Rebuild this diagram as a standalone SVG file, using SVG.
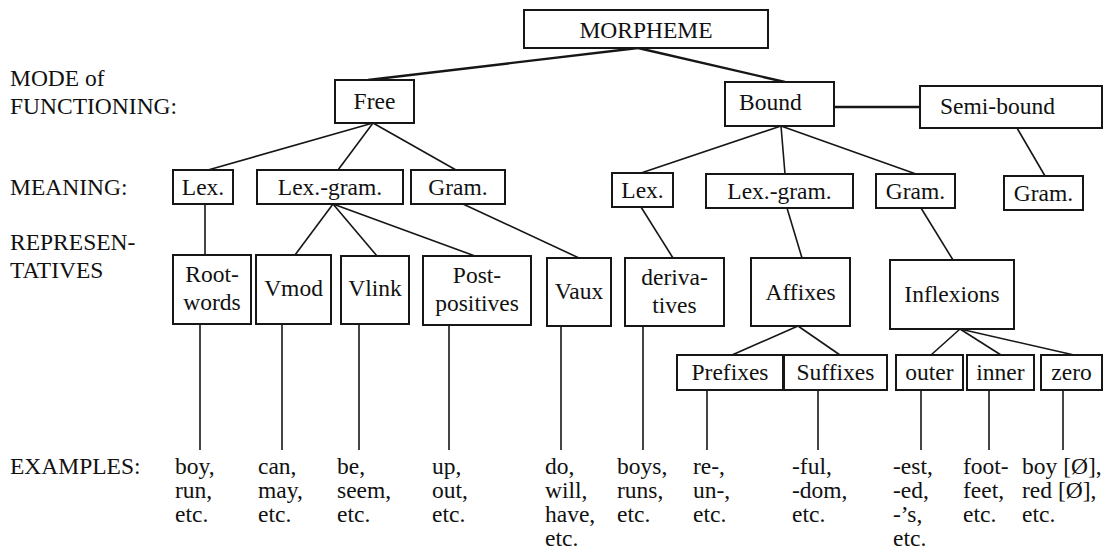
<svg xmlns="http://www.w3.org/2000/svg" width="1118" height="551" viewBox="0 0 1118 551">
  <style>
    text { font-family: "Liberation Serif", "Times New Roman", serif; font-size: 23.5px; fill: #111111; }
    .c { text-anchor: middle; }
    .box { fill: #ffffff; stroke: #161616; stroke-width: 2; }
    .ln { stroke: #161616; stroke-width: 1.6; fill: none; }
    .thick { stroke-width: 2.4; }
  </style>
  <rect width="1118" height="551" fill="#ffffff"/>

  <!-- row labels -->
  <g id="row-labels">
    <text x="10" y="86">MODE of</text>
    <text x="10" y="114">FUNCTIONING:</text>
    <text x="10" y="195">MEANING:</text>
    <text x="10" y="250">REPRESEN-</text>
    <text x="10" y="278">TATIVES</text>
    <text x="10" y="474">EXAMPLES:</text>
  </g>

  <!-- connectors -->
  <g id="connectors">
    <line class="ln thick" x1="638" y1="48" x2="368" y2="80"/>
    <line class="ln thick" x1="638" y1="48" x2="785" y2="82"/>
    <line class="ln thick" x1="834" y1="107" x2="920" y2="107"/>

    <line class="ln" x1="373" y1="123" x2="208" y2="170"/>
    <line class="ln" x1="373" y1="123" x2="338" y2="170"/>
    <line class="ln" x1="373" y1="123" x2="456" y2="170"/>

    <line class="ln" x1="781" y1="126" x2="641" y2="173"/>
    <line class="ln" x1="781" y1="126" x2="785" y2="174"/>
    <line class="ln" x1="781" y1="126" x2="916" y2="174"/>
    <line class="ln" x1="1017" y1="128" x2="1045" y2="176"/>

    <line class="ln" x1="205" y1="204" x2="205" y2="255"/>
    <line class="ln" x1="333" y1="204" x2="295" y2="255"/>
    <line class="ln" x1="333" y1="204" x2="377" y2="256"/>
    <line class="ln" x1="333" y1="204" x2="475" y2="256"/>
    <line class="ln" x1="463" y1="204" x2="579" y2="258"/>

    <line class="ln" x1="641" y1="207" x2="673" y2="258"/>
    <line class="ln" x1="787" y1="208" x2="802" y2="258"/>
    <line class="ln" x1="921" y1="208" x2="953" y2="260"/>

    <line class="ln" x1="798" y1="326" x2="732" y2="355"/>
    <line class="ln" x1="798" y1="326" x2="840" y2="355"/>
    <line class="ln" x1="960" y1="329" x2="931" y2="355"/>
    <line class="ln" x1="960" y1="329" x2="1001" y2="355"/>
    <line class="ln" x1="960" y1="329" x2="1074" y2="355"/>

    <line class="ln" x1="200" y1="324" x2="200" y2="450"/>
    <line class="ln" x1="282" y1="324" x2="282" y2="450"/>
    <line class="ln" x1="359" y1="324" x2="359" y2="450"/>
    <line class="ln" x1="449" y1="325" x2="449" y2="450"/>
    <line class="ln" x1="561" y1="326" x2="561" y2="450"/>
    <line class="ln" x1="643" y1="326" x2="643" y2="450"/>
    <line class="ln" x1="707" y1="390" x2="707" y2="450"/>
    <line class="ln" x1="818" y1="390" x2="818" y2="450"/>
    <line class="ln" x1="921" y1="390" x2="921" y2="450"/>
    <line class="ln" x1="989" y1="390" x2="989" y2="450"/>
    <line class="ln" x1="1063" y1="390" x2="1063" y2="450"/>
  </g>

  <!-- level 0 -->
  <g id="morpheme"><rect class="box" x="524" y="10" width="244" height="38"/><text class="c" x="646" y="38">MORPHEME</text></g>

  <!-- mode of functioning -->
  <g id="free"><rect class="box" x="335" y="80" width="79" height="43"/><text class="c" x="374.5" y="109">Free</text></g>
  <g id="bound"><rect class="box" x="725" y="82" width="109" height="44"/><text x="739" y="110">Bound</text></g>
  <g id="semi-bound"><rect class="box" x="920" y="86" width="182" height="42"/><text x="940" y="114">Semi-bound</text></g>

  <!-- meaning -->
  <g id="free-lex"><rect class="box" x="173" y="170" width="60" height="34"/><text class="c" x="203" y="195">Lex.</text></g>
  <g id="free-lexgram"><rect class="box" x="257" y="170" width="146" height="34"/><text class="c" x="330" y="195">Lex.-gram.</text></g>
  <g id="free-gram"><rect class="box" x="411" y="170" width="94" height="34"/><text class="c" x="458" y="195">Gram.</text></g>
  <g id="bound-lex"><rect class="box" x="612" y="173" width="61" height="34"/><text class="c" x="642.5" y="198">Lex.</text></g>
  <g id="bound-lexgram"><rect class="box" x="706" y="174" width="147" height="34"/><text class="c" x="779.5" y="199">Lex.-gram.</text></g>
  <g id="bound-gram"><rect class="box" x="876" y="174" width="79" height="34"/><text class="c" x="915.5" y="199">Gram.</text></g>
  <g id="semi-gram"><rect class="box" x="1004" y="176" width="79" height="34"/><text class="c" x="1043.5" y="201">Gram.</text></g>

  <!-- representatives -->
  <g id="root-words"><rect class="box" x="173" y="255" width="78" height="69"/><text class="c" x="212" y="282">Root-</text><text class="c" x="212" y="310">words</text></g>
  <g id="vmod"><rect class="box" x="256" y="255" width="75" height="69"/><text class="c" x="293.5" y="296">Vmod</text></g>
  <g id="vlink"><rect class="box" x="341" y="256" width="68" height="68"/><text class="c" x="375" y="296">Vlink</text></g>
  <g id="post-positives"><rect class="box" x="423" y="256" width="108" height="69"/><text class="c" x="477" y="283">Post-</text><text class="c" x="477" y="311">positives</text></g>
  <g id="vaux"><rect class="box" x="547" y="258" width="64" height="68"/><text class="c" x="579" y="299">Vaux</text></g>
  <g id="derivatives"><rect class="box" x="625" y="258" width="99" height="68"/><text class="c" x="674.5" y="285">deriva-</text><text class="c" x="674.5" y="313">tives</text></g>
  <g id="affixes"><rect class="box" x="751" y="258" width="99" height="68"/><text class="c" x="800.5" y="300">Affixes</text></g>
  <g id="inflexions"><rect class="box" x="890" y="260" width="124" height="69"/><text class="c" x="952" y="302">Inflexions</text></g>

  <!-- sub-types -->
  <g id="prefixes"><rect class="box" x="677" y="355" width="106" height="35"/><text class="c" x="730" y="380">Prefixes</text></g>
  <g id="suffixes"><rect class="box" x="784" y="355" width="103" height="35"/><text class="c" x="835.5" y="380">Suffixes</text></g>
  <g id="outer"><rect class="box" x="896" y="355" width="67" height="35"/><text class="c" x="929.5" y="380">outer</text></g>
  <g id="inner"><rect class="box" x="967" y="355" width="67" height="35"/><text class="c" x="1000.5" y="380">inner</text></g>
  <g id="zero"><rect class="box" x="1041" y="355" width="61" height="35"/><text class="c" x="1071.5" y="380">zero</text></g>

  <!-- examples -->
  <g id="examples">
    <text x="175" y="474">boy,</text><text x="175" y="498">run,</text><text x="175" y="522">etc.</text>
    <text x="258" y="474">can,</text><text x="258" y="498">may,</text><text x="258" y="522">etc.</text>
    <text x="337" y="474">be,</text><text x="337" y="498">seem,</text><text x="337" y="522">etc.</text>
    <text x="432" y="474">up,</text><text x="432" y="498">out,</text><text x="432" y="522">etc.</text>
    <text x="545" y="474">do,</text><text x="545" y="498">will,</text><text x="545" y="522">have,</text><text x="545" y="546">etc.</text>
    <text x="617" y="474">boys,</text><text x="617" y="498">runs,</text><text x="617" y="522">etc.</text>
    <text x="693" y="474">re-,</text><text x="693" y="498">un-,</text><text x="693" y="522">etc.</text>
    <text x="792" y="474">-ful,</text><text x="792" y="498">-dom,</text><text x="792" y="522">etc.</text>
    <text x="893" y="474">-est,</text><text x="893" y="498">-ed,</text><text x="893" y="522">-’s,</text><text x="893" y="546">etc.</text>
    <text x="963" y="474">foot-</text><text x="963" y="498">feet,</text><text x="963" y="522">etc.</text>
    <text x="1022" y="474">boy [Ø],</text><text x="1022" y="498">red  [Ø],</text><text x="1022" y="522">etc.</text>
  </g>
</svg>
